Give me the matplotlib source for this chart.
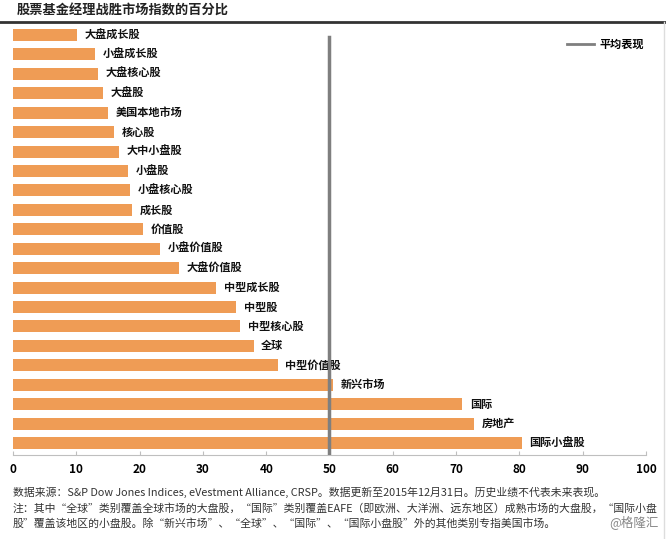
# 股票基金经理战胜市场指数的百分比 - 横向条形图
import matplotlib
matplotlib.use('Agg')
import matplotlib.pyplot as plt
from matplotlib.lines import Line2D

plt.rcParams['font.family'] = ['Noto Sans CJK SC', 'DejaVu Sans']
plt.rcParams['axes.unicode_minus'] = False

categories = ['大盘成长股', '小盘成长股', '大盘核心股', '大盘股', '美国本地市场', '核心股',
              '大中小盘股', '小盘股', '小盘核心股', '成长股', '价值股', '小盘价值股',
              '大盘价值股', '中型成长股', '中型股', '中型核心股', '全球', '中型价值股',
              '新兴市场', '国际', '房地产', '国际小盘股']
values = [10.1, 13.0, 13.4, 14.2, 15.0, 16.0, 16.8, 18.2, 18.5, 18.8, 20.6, 23.3,
          26.3, 32.1, 35.3, 35.9, 38.0, 41.8, 50.6, 71.0, 72.9, 80.4]
average = 50
xticks = list(range(0, 101, 10))

title = '股票基金经理战胜市场指数的百分比'
note1 = '数据来源：S&P Dow Jones Indices, eVestment Alliance, CRSP。数据更新至2015年12月31日。历史业绩不代表未来表现。'
note2 = '注：其中“全球”类别覆盖全球市场的大盘股，“国际”类别覆盖EAFE（即欧洲、大洋洲、远东地区）成熟市场的大盘股，“国际小盘'
note3 = '股”覆盖该地区的小盘股。除“新兴市场”、“全球”、“国际”、“国际小盘股”外的其他类别专指美国市场。'

fig = plt.figure(figsize=(6.66, 5.39), dpi=100)
ax = fig.add_axes([13/666, 1-455/539, (646-13)/666, (455-28)/539])

y = list(range(len(categories)))
ax.barh(y, values, height=0.62, color='#EF9C55')
for yi, v, name in zip(y, values, categories):
    ax.text(v + 1.2, yi, name, va='center', ha='left', fontsize=8, fontweight='bold', color='#111111')

ax.axvline(average, ymin=0, ymax=0.979, color='#7f7f7f', lw=2.5, zorder=3)

ax.set_xlim(0, 100)
ax.set_ylim(21.62, -0.36)
ax.set_xticks(xticks)
ax.set_xticklabels([str(t) for t in xticks], fontsize=8.5, fontweight='bold')
ax.set_yticks([])
for s in ['top', 'right', 'left']:
    ax.spines[s].set_visible(False)
ax.spines['bottom'].set_color('#bfbfbf')
ax.tick_params(axis='x', direction='in', length=3, color='#bfbfbf', pad=6)

handle = Line2D([0], [0], color='#7f7f7f', lw=2)
ax.legend([handle], ['平均表现'], loc='upper right', bbox_to_anchor=(1.012, 1.0), frameon=False,
          handlelength=2.4, handletextpad=0.45, prop={'size': 8, 'weight': 'bold'})

# 标题与分隔线
fig.text(17/666, 1-11/539, title, fontsize=9.5, fontweight='bold', va='center', ha='left', color='#222222')
fig.add_artist(Line2D([0, 1], [1-22/539, 1-22/539], color='#333333', lw=2))
fig.add_artist(Line2D([664/666, 664/666], [0, 1-22/539], color='#dddddd', lw=1))

# 脚注
fig.text(13/666, 1-492/539, note1, fontsize=7.8, va='center', ha='left', color='#333333')
fig.text(13/666, 1-508/539, note2, fontsize=7.8, va='center', ha='left', color='#333333')
fig.text(13/666, 1-524/539, note3, fontsize=7.8, va='center', ha='left', color='#333333')
fig.text(659/666, 1-522/539, '@格隆汇', fontsize=9, va='center', ha='right', color='#888888')

fig.savefig('out.png', dpi=100)
